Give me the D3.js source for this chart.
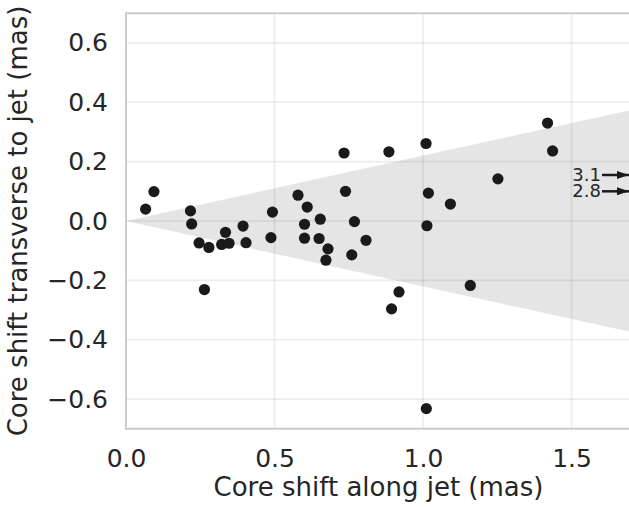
<!DOCTYPE html>
<html>
<head>
<meta charset="utf-8">
<script src="https://cdn.jsdelivr.net/npm/d3@7"></script>
<style>
  html, body { margin: 0; padding: 0; background: #fff; }
  svg { display: block; }
  text { font-family: "DejaVu Sans", sans-serif; fill: #262626; }
</style>
</head>
<body>
<svg id="chart" width="629" height="507"></svg>
<script>
// Core shift measurements (mas): along the jet and transverse to it
const alongJet = [
  0.066, 0.094, 0.217, 0.221, 0.246, 0.264, 0.279, 0.322, 0.335, 0.347,
  0.394, 0.404, 0.488, 0.493, 0.579, 0.610, 0.601, 0.601, 0.654, 0.650,
  0.680, 0.673, 0.734, 0.739, 0.760, 0.769, 0.808, 0.885, 0.894, 0.919,
  1.010, 1.018, 1.013, 1.011, 1.092, 1.159, 1.252, 1.419, 1.436
];
const transverse = [
  0.040, 0.099, 0.034, -0.010, -0.074, -0.231, -0.089, -0.079, -0.038, -0.075,
  -0.017, -0.073, -0.056, 0.030, 0.087, 0.047, -0.011, -0.058, 0.006, -0.059,
  -0.094, -0.132, 0.229, 0.100, -0.114, -0.002, -0.065, 0.233, -0.296, -0.239,
  0.261, 0.094, -0.016, -0.632, 0.057, -0.217, 0.142, 0.330, 0.236
];

// Off-scale sources shown as arrows at the right edge
const offscaleLabels = ["3.1", "2.8"];
const offscaleTransverse = [0.155, 0.10];

// Opening of the shaded jet cone (transverse / along)
const coneSlope = 0.22;

const xTicks = [0.0, 0.5, 1.0, 1.5];
const yTicks = [-0.6, -0.4, -0.2, 0.0, 0.2, 0.4, 0.6];
const xDomain = [0, 1.7];
const yDomain = [-0.7, 0.7];

const svg = d3.select("#chart");
const pLeft = 126, pRight = 631, pTop = 13.2, pBottom = 428.8;

const x = d3.scaleLinear().domain(xDomain).range([pLeft, pRight]);
const y = d3.scaleLinear().domain(yDomain).range([pBottom, pTop]);

const defs = svg.append("defs");
defs.append("clipPath").attr("id", "plot-area")
  .append("rect").attr("x", pLeft).attr("y", pTop)
  .attr("width", pRight - pLeft).attr("height", pBottom - pTop);

const plot = svg.append("g").attr("clip-path", "url(#plot-area)");

// Cone
const xe = xDomain[1];
plot.append("path")
  .attr("d", d3.line()([
    [x(0), y(0)], [x(xe), y(coneSlope * xe)], [x(xe), y(-coneSlope * xe)]
  ]) + "Z")
  .attr("fill", "#e5e5e5");

// Grid
plot.append("g").selectAll("line").data(xTicks).join("line")
  .attr("x1", d => x(d)).attr("x2", d => x(d))
  .attr("y1", pTop).attr("y2", pBottom)
  .attr("stroke", "#000").attr("stroke-opacity", 0.075).attr("stroke-width", 1.6);
plot.append("g").selectAll("line").data(yTicks).join("line")
  .attr("x1", pLeft).attr("x2", pRight)
  .attr("y1", d => y(d)).attr("y2", d => y(d))
  .attr("stroke", "#000").attr("stroke-opacity", 0.075).attr("stroke-width", 1.6);

// Spines
svg.append("path")
  .attr("d", `M${pRight},${pTop}H${pLeft}V${pBottom}H${pRight}`)
  .attr("fill", "none").attr("stroke", "#cccccc").attr("stroke-width", 2);

// Points
plot.append("g").selectAll("circle").data(alongJet).join("circle")
  .attr("cx", d => x(d))
  .attr("cy", (d, i) => y(transverse[i]))
  .attr("r", 5.6)
  .attr("fill", "#1a1a1a");

// Off-scale arrows
defs.append("marker")
  .attr("id", "arrowhead").attr("viewBox", "0 0 10 10")
  .attr("refX", 10).attr("refY", 5)
  .attr("markerWidth", 12).attr("markerHeight", 8)
  .attr("markerUnits", "userSpaceOnUse")
  .attr("orient", "auto")
  .attr("preserveAspectRatio", "none")
  .append("path").attr("d", "M0,0L10,5L0,10Z").attr("fill", "#1a1a1a");

const arrows = svg.append("g").selectAll("g").data(offscaleLabels).join("g");
arrows.append("line")
  .attr("x1", 602).attr("x2", 629)
  .attr("y1", (d, i) => y(offscaleTransverse[i]))
  .attr("y2", (d, i) => y(offscaleTransverse[i]))
  .attr("stroke", "#1a1a1a").attr("stroke-width", 2.5)
  .attr("marker-end", "url(#arrowhead)");
arrows.append("text")
  .attr("x", 601)
  .attr("y", (d, i) => y(offscaleTransverse[i]))
  .attr("dy", "0.33em")
  .attr("text-anchor", "end")
  .style("font-size", "18px")
  .text(d => d);

// Axes
const fmt = d3.format(".1f");
const minus = s => s.replace("-", "\u2212");

const xAxis = svg.append("g").attr("transform", `translate(0,${pBottom})`)
  .call(d3.axisBottom(x).tickValues(xTicks).tickFormat(d => minus(fmt(d))).tickSize(0).tickPadding(20.5));
const yAxis = svg.append("g").attr("transform", `translate(${pLeft},0)`)
  .call(d3.axisLeft(y).tickValues(yTicks).tickFormat(d => minus(fmt(d))).tickSize(0).tickPadding(18));
[xAxis, yAxis].forEach(g => {
  g.select(".domain").remove();
  g.selectAll("text").style("font-size", "25px").attr("fill", "#262626")
    .style("font-family", "DejaVu Sans, sans-serif");
});

svg.append("text")
  .attr("x", (pLeft + pRight) / 2).attr("y", 496)
  .attr("text-anchor", "middle")
  .style("font-size", "26px")
  .text("Core shift along jet (mas)");

svg.append("text")
  .attr("transform", `translate(27,${(pTop + pBottom) / 2}) rotate(-90)`)
  .attr("text-anchor", "middle")
  .style("font-size", "26px")
  .text("Core shift transverse to jet (mas)");
</script>
</body>
</html>
